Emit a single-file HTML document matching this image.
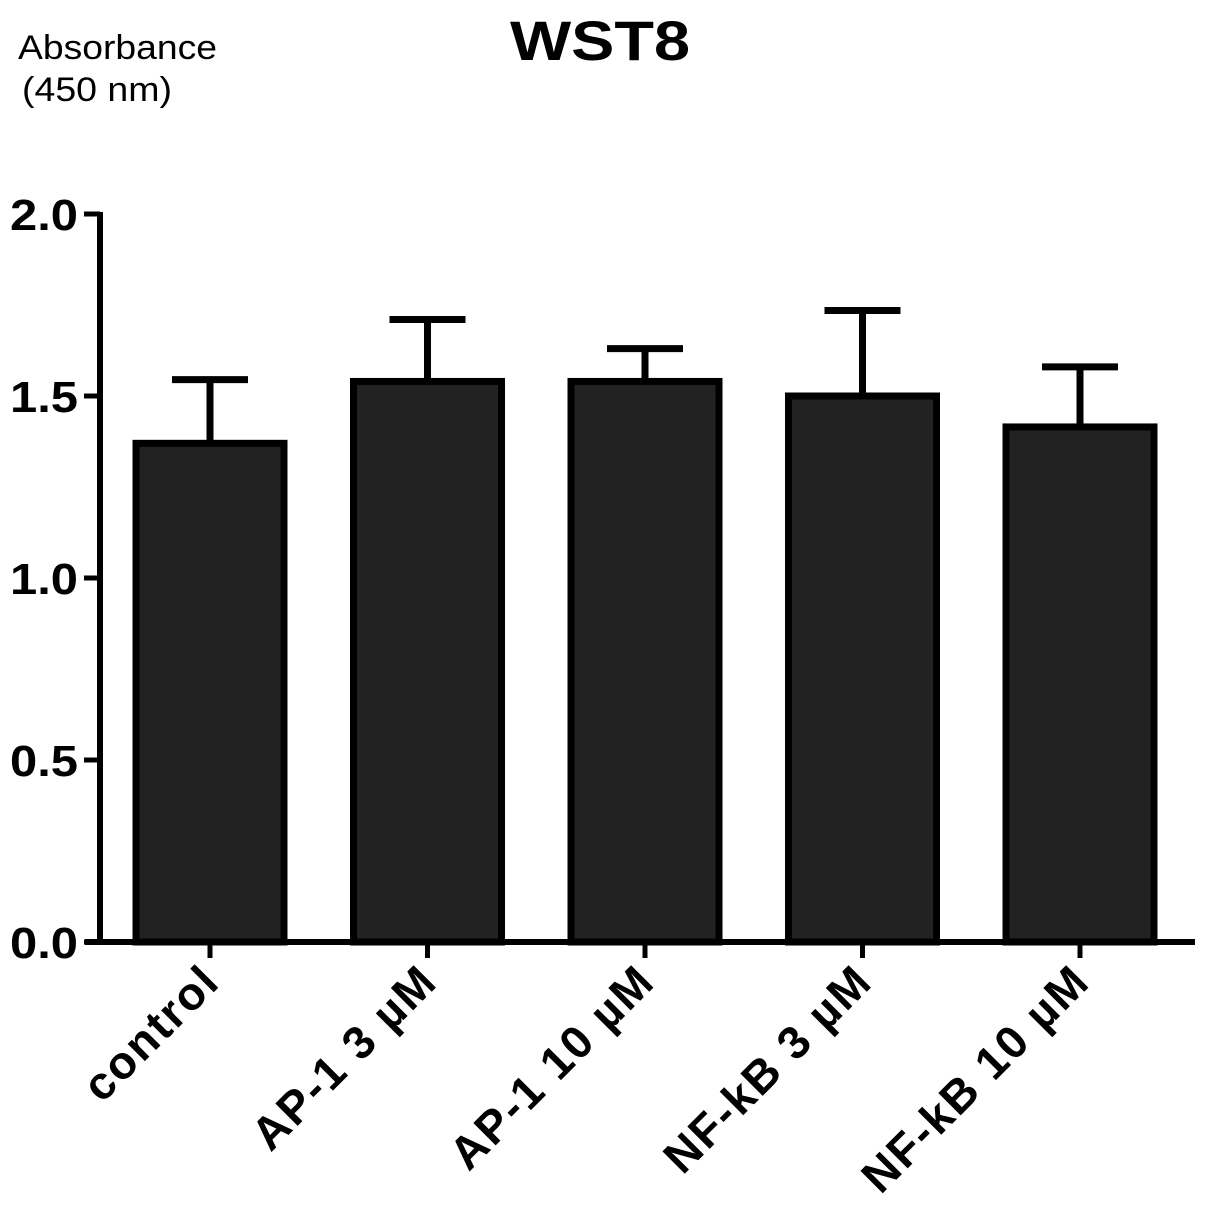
<!DOCTYPE html>
<html><head><meta charset="utf-8"><style>
html,body{margin:0;padding:0;background:#fff;}
svg{display:block;font-family:"Liberation Sans",Arial,sans-serif;}
</style></head><body>
<svg id="chart" width="1205" height="1220" viewBox="0 0 1205 1220">
<text x="510" y="60" font-size="56" font-weight="bold" textLength="180" lengthAdjust="spacingAndGlyphs">WST8</text>
<text x="18" y="59" font-size="34" textLength="199" lengthAdjust="spacingAndGlyphs">Absorbance</text>
<text x="22" y="101" font-size="34" textLength="150" lengthAdjust="spacingAndGlyphs">(450 nm)</text>
<g id="plot"></g>
</svg>
<script>
const categories = ["control","AP-1 3 \u00b5M","AP-1 10 \u00b5M","NF-kB 3 \u00b5M","NF-kB 10 \u00b5M"];
const means = [1.37, 1.54, 1.54, 1.50, 1.415];
const errors = [0.175, 0.17, 0.09, 0.235, 0.165];
const yTicks = [0, 0.5, 1.0, 1.5, 2.0];
const yTickLabels = ["0.0","0.5","1.0","1.5","2.0"];

const NS = "http://www.w3.org/2000/svg";
const g = document.getElementById('plot');
const y0 = 942, yTop = 214, yMax = 2.0;
const yScale = v => y0 - (v / yMax) * (y0 - yTop);
const xLeft = 100, slot = 217.5, barW = 148;
const xCenter = i => 210 + i * slot;
function mk(tag, attrs){ const e = document.createElementNS(NS, tag); for (const k in attrs) e.setAttribute(k, attrs[k]); g.appendChild(e); return e; }

categories.forEach((c, i) => {
  const cx = xCenter(i), top = yScale(means[i]), et = yScale(means[i] + errors[i]);
  const eb = mk('line', {x1: cx, x2: cx, y1: top, y2: et, stroke: '#000', 'stroke-width': 7});
  
  
  const cap = mk('line', {x1: cx - 38, x2: cx + 38, y1: et, y2: et, stroke: '#000', 'stroke-width': 7});
  
  
  const r = mk('rect', {x: cx - barW/2, y: top, width: barW, height: y0 - top, fill: '#222', stroke: '#000', 'stroke-width': 7});
  
  
  const t = mk('line', {x1: cx, x2: cx, y1: y0, y2: y0 + 16, stroke: '#000', 'stroke-width': 5});
  
  
  const lx = cx + 12, ly = 984;
  const lab = mk('text', {x: lx, y: ly, 'text-anchor': 'end', 'font-size': 46, 'font-weight': 'bold', 'letter-spacing': 2, transform: `rotate(-45 ${lx} ${ly})`});
  lab.textContent = c;
  
  
});

const ya = mk('line', {x1: xLeft, x2: xLeft, y1: yTop - 2, y2: y0 + 2, stroke: '#000', 'stroke-width': 6});


const xa = mk('line', {x1: 85, x2: 1195, y1: y0, y2: y0, stroke: '#000', 'stroke-width': 6});



yTicks.forEach((v, i) => {
  const y = yScale(v);
  const t = mk('line', {x1: 84, x2: xLeft, y1: y, y2: y, stroke: '#000', 'stroke-width': 5});
  
  
  const l = mk('text', {x: 10, y: y + 16, 'font-size': 44, 'font-weight': 'bold', textLength: 68, lengthAdjust: 'spacingAndGlyphs'});
  l.textContent = yTickLabels[i];
  
  
});
</script>
</body></html>
